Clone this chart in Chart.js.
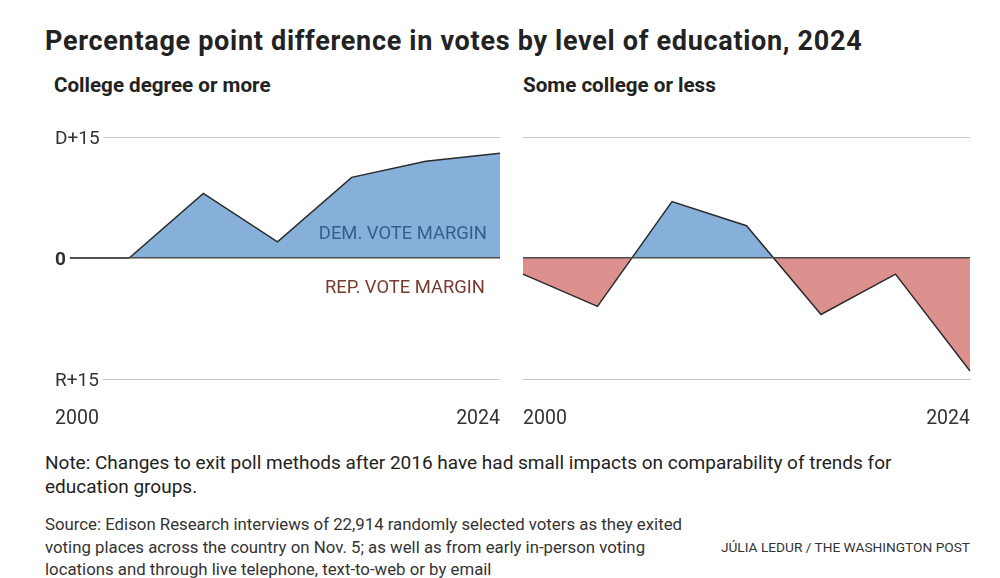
<!DOCTYPE html>
<html>
<head>
<meta charset="utf-8">
<script src="https://cdn.jsdelivr.net/npm/chart.js@4/dist/chart.umd.min.js"></script>
<style>
  html, body { margin: 0; padding: 0; background: #fff; }
  body { width: 1000px; height: 578px; position: relative; overflow: hidden; font-family: Roboto, "Liberation Sans", sans-serif; color: #222; }
  .abs { position: absolute; white-space: nowrap; }
  #title { left: 45px; top: 24px; font-size: 27px; line-height: 34px; font-weight: 700; letter-spacing: 0.7px; color: #222; }
  .sub { top: 73px; font-size: 20.6px; line-height: 24px; font-weight: 700; color: #222; }
  #note { left: 45px; top: 451px; font-size: 19px; line-height: 24px; color: #222; }
  #source { left: 45px; top: 513px; font-size: 16.8px; line-height: 22.5px; color: #333; }
  #credit { right: 30px; top: 538px; font-size: 13.7px; line-height: 18px; color: #333; }
  .ann { font-size: 18.4px; line-height: 20px; }
  #dem { right: 513px; top: 223px; color: #355e8c; }
  #rep { right: 515px; top: 277px; color: #7a3a30; }
  canvas { position: absolute; }
</style>
</head>
<body>
<div id="title" class="abs">Percentage point difference in votes by level of education, 2024</div>
<div class="abs sub" style="left:54px">College degree or more</div>
<div class="abs sub" style="left:523px">Some college or less</div>

<canvas id="c1" width="485" height="309" style="left:35px; top:120px"></canvas>
<canvas id="c2" width="487" height="309" style="left:503px; top:120px"></canvas>

<div id="dem" class="abs ann">DEM. VOTE MARGIN</div>
<div id="rep" class="abs ann">REP. VOTE MARGIN</div>

<div id="note" class="abs">Note: Changes to exit poll methods after 2016 have had small impacts on comparability of trends for<br>education groups.</div>
<div id="source" class="abs">Source: Edison Research interviews of 22,914 randomly selected voters as they exited<br>voting places across the country on Nov. 5; as well as from early in-person voting<br>locations and through live telephone, text-to-web or by email</div>
<div id="credit" class="abs">JÚLIA LEDUR / THE WASHINGTON POST</div>

<script>
// ---- data ----
const years = ['2000', '2004', '2008', '2012', '2016', '2020', '2024'];
const collegeMargin = [0, 0, 8, 2, 10, 12, 13];          // + = Dem, - = Rep
const nonCollegeMargin = [-2, -6, 7, 4, -7, -2, -14];
const yTickValues = [-15, 0, 15];
const yTickLabels = ['R+15', '0', 'D+15'];
const xTickLabels = ['2000', '2024'];

const DEM_FILL = '#86afd9';
const REP_FILL = '#dd918e';

function makeChart(id, values, showYLabels) {
  return new Chart(document.getElementById(id), {
    type: 'line',
    data: {
      labels: years,
      datasets: [{
        data: values,
        borderColor: '#2b2b2b',
        borderWidth: 1.5,
        pointRadius: 0,
        tension: 0,
        fill: { target: { value: 0 }, above: DEM_FILL, below: REP_FILL }
      }]
    },
    options: {
      responsive: false,
      animation: false,
      layout: { padding: { left: 0, right: 0, top: 17, bottom: 0 } },
      plugins: { legend: { display: false }, tooltip: { enabled: false } },
      scales: {
        x: {
          type: 'category',
          offset: false,
          grid: { display: false },
          border: { display: false },
          afterFit: (s) => { s.height = 50; },
          ticks: {
            autoSkip: false,
            maxRotation: 0,
            align: 'inner',
            padding: 20,
            color: '#333',
            font: { family: 'Roboto', size: 19.5 },
            callback: function (v) {
              const lbl = this.getLabelForValue(v);
              return xTickLabels.includes(lbl) ? lbl : '';
            }
          }
        },
        y: {
          min: -15, max: 15,
          border: { display: false },
          grid: {
            drawTicks: false,
            z: 1,
            color: (c) => c.tick && c.tick.value === 0 ? '#4d4d4d' : '#c9c9c9',
            lineWidth: (c) => c.tick && c.tick.value === 0 ? 1.6 : 1
          },
          afterBuildTicks: (s) => { s.ticks = yTickValues.map(v => ({ value: v })); },
          ticks: {
            display: showYLabels,
            mirror: true,
            padding: 0,
            labelOffset: 2,
            z: 2,
            color: '#333',
            showLabelBackdrop: true,
            backdropColor: '#fff',
            backdropPadding: { left: 2, right: 4, top: 1, bottom: 1 },
            font: (c) => ({ family: 'Roboto', size: 19, weight: c.tick && c.tick.value === 0 ? '700' : '400' }),
            callback: (v) => yTickLabels[yTickValues.indexOf(v)]
          }
        }
      }
    }
  });
}

makeChart('c1', collegeMargin, true);
makeChart('c2', nonCollegeMargin, false);
</script>
</body>
</html>
